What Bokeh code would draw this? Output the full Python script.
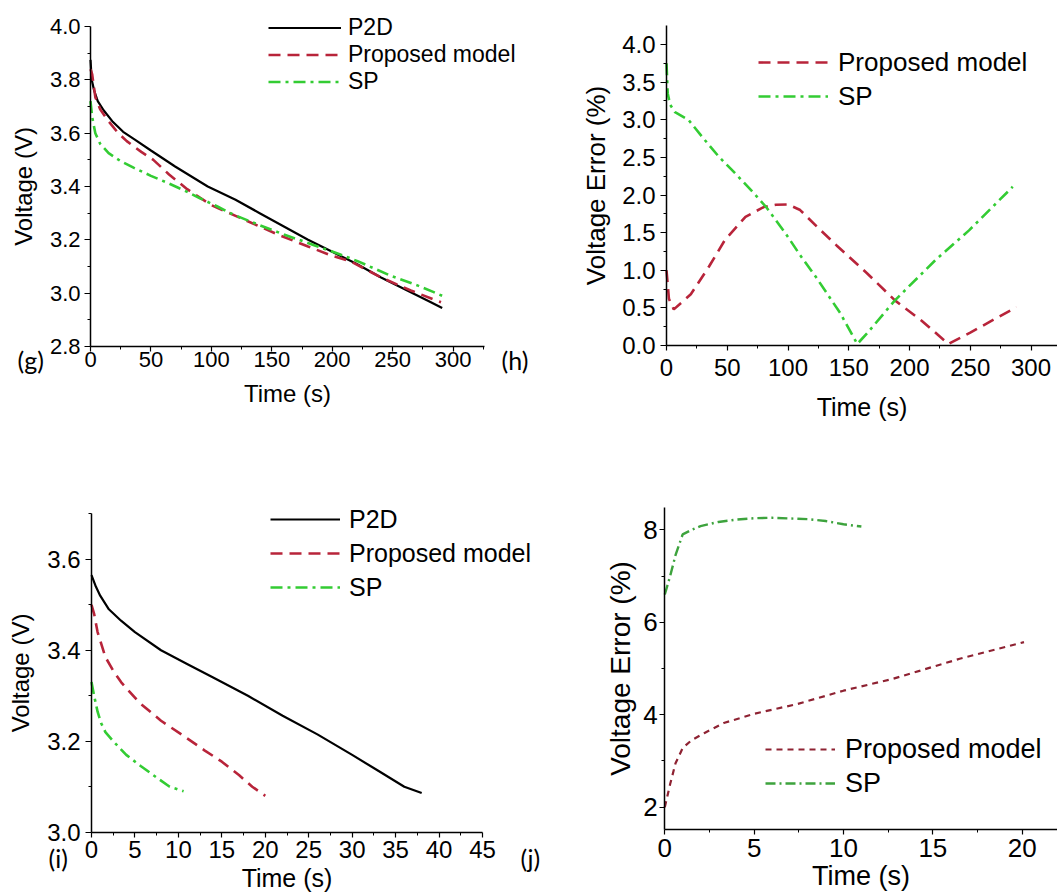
from bokeh.plotting import figure
from bokeh.layouts import column, row
from bokeh.models import FixedTicker, NumeralTickFormatter, Legend, LegendItem, Label, Range1d
from bokeh.embed import file_html
from bokeh.resources import INLINE

# ---------------- data ----------------
# panel (g): voltage vs time
g_p2d_t = [0, 1, 3, 6, 11, 18, 27, 37, 50, 70, 97, 120, 140, 160, 180, 200, 220, 240, 260, 280, 291]
g_p2d_v = [3.875, 3.80, 3.76, 3.72, 3.685, 3.645, 3.605, 3.575, 3.535, 3.475, 3.40, 3.35, 3.30, 3.25,
           3.20, 3.155, 3.11, 3.06, 3.015, 2.97, 2.944]
g_prop_t = [0, 1.4, 4, 8, 14, 22, 30, 42, 52, 65, 80, 100, 120, 140, 157, 180, 200, 215, 240, 265, 290]
g_prop_v = [3.84, 3.82, 3.735, 3.69, 3.65, 3.605, 3.57, 3.53, 3.50, 3.445, 3.39, 3.33, 3.29, 3.25,
            3.216, 3.175, 3.14, 3.12, 3.06, 3.01, 2.966]
g_sp_t = [0, 1.4, 4, 8, 15, 25, 36, 50, 63, 80, 91, 105, 118, 140, 160, 185, 205, 221, 248, 270, 284, 291]
g_sp_v = [3.72, 3.66, 3.60, 3.56, 3.525, 3.495, 3.47, 3.44, 3.415, 3.38, 3.355, 3.325, 3.295, 3.255,
          3.22, 3.18, 3.148, 3.12, 3.066, 3.03, 3.004, 2.99]

# panel (h): voltage error vs time
h_prop_t = [0, 2, 6, 20, 35, 48, 65, 80, 90, 100, 110, 125, 140, 165, 188, 210, 232, 250, 270, 288]
h_prop_v = [1.0, 0.62, 0.48, 0.68, 1.05, 1.40, 1.71, 1.84, 1.87, 1.875, 1.80, 1.56, 1.33, 0.96,
            0.60, 0.33, 0.02, 0.17, 0.35, 0.51]
h_sp_t = [0, 1, 3, 7, 18, 30, 43, 57, 71, 82, 98, 110, 123, 143, 157, 165, 188, 221, 249, 285]
h_sp_v = [3.75, 3.35, 3.20, 3.10, 3.00, 2.76, 2.51, 2.28, 2.04, 1.84, 1.49, 1.20, 0.91, 0.43,
          0.02, 0.16, 0.60, 1.13, 1.53, 2.11]

# panel (i): voltage vs time
i_p2d_t = [0, 0.5, 1, 2, 3.4, 5, 8, 11, 14, 18, 22, 26, 30, 33, 36, 38]
i_p2d_v = [3.565, 3.54, 3.52, 3.49, 3.465, 3.44, 3.40, 3.37, 3.34, 3.30, 3.256, 3.215, 3.17,
           3.135, 3.10, 3.086]
i_prop_t = [0, 0.3, 0.7, 1.6, 2.5, 3.4, 5.5, 8, 10.5, 13, 15, 17, 18.5, 20]
i_prop_v = [3.50, 3.48, 3.44, 3.385, 3.355, 3.33, 3.285, 3.245, 3.213, 3.18, 3.155, 3.125, 3.10, 3.08]
i_sp_t = [0, 0.3, 0.7, 1.1, 1.6, 2.6, 4, 5.7, 7.5, 9, 10.6]
i_sp_v = [3.33, 3.30, 3.265, 3.24, 3.22, 3.198, 3.17, 3.145, 3.12, 3.10, 3.09]

# panel (j): voltage error vs time
j_prop_t = [0, 0.3, 0.6, 1.0, 1.5, 2.2, 3.3, 5, 7.4, 10, 12.8, 16.5, 20.1]
j_prop_v = [2.0, 2.5, 2.95, 3.28, 3.45, 3.6, 3.82, 4.02, 4.23, 4.52, 4.78, 5.21, 5.57]
j_sp_t = [0, 0.3, 0.6, 1.0, 1.5, 2, 3, 4, 5, 6, 7, 8, 9, 10, 11]
j_sp_v = [6.6, 7.0, 7.45, 7.9, 8.0, 8.08, 8.17, 8.22, 8.25, 8.26, 8.245, 8.23, 8.19, 8.12, 8.07]

# tick values
g_xticks = [0, 50, 100, 150, 200, 250, 300]
g_xminor = [25, 75, 125, 175, 225, 275, 325]
g_yticks = [2.8, 3.0, 3.2, 3.4, 3.6, 3.8, 4.0]
g_yminor = [2.9, 3.1, 3.3, 3.5, 3.7, 3.9]
h_xticks = [0, 50, 100, 150, 200, 250, 300]
h_xminor = [25, 75, 125, 175, 225, 275]
h_yticks = [0.0, 0.5, 1.0, 1.5, 2.0, 2.5, 3.0, 3.5, 4.0]
h_yminor = [0.25, 0.75, 1.25, 1.75, 2.25, 2.75, 3.25, 3.75]
i_xticks = [0, 5, 10, 15, 20, 25, 30, 35, 40, 45]
i_xminor = [2.5, 7.5, 12.5, 17.5, 22.5, 27.5, 32.5, 37.5, 42.5]
i_yticks = [3.0, 3.2, 3.4, 3.6]
i_yminor = [3.1, 3.3, 3.5, 3.7]
j_xticks = [0, 5, 10, 15, 20]
j_xminor = [2.5, 7.5, 12.5, 17.5]
j_yticks = [2, 4, 6, 8]
j_yminor = [3, 5, 7]

FONT = "Liberation Sans"
PFONT = "Lato"
RED = "#B8243A"
GREEN = "#33CC33"


def make_fig(w, h, xpx, xval, ypx, yval, xbounds, ybounds):
    # x: value xval[0] at pixel xpx[0], xval[1] at xpx[1]; y pixels from the top
    kx = (xval[1] - xval[0]) / (xpx[1] - xpx[0])
    xr = (xval[0] - xpx[0] * kx, xval[0] + (w - xpx[0]) * kx)
    ytop, ybot = ypx
    ky = (yval[0] - yval[1]) / (ybot - ytop)
    yr = (yval[1] - (h - ybot) * ky, yval[0] + ytop * ky)
    p = figure(width=w, height=h, x_range=Range1d(*xr), y_range=Range1d(*yr),
               output_backend="svg", toolbar_location=None,
               min_border_left=0, min_border_right=0, min_border_top=0, min_border_bottom=0)
    p.grid.visible = False
    p.outline_line_color = None
    p.border_fill_color = "white"
    p.background_fill_color = "white"
    p.xaxis[0].fixed_location = ybounds[0]
    p.yaxis[0].fixed_location = xbounds[0]
    p.xaxis[0].bounds = xbounds
    p.yaxis[0].bounds = ybounds
    return p


def style_axis(ax, ticks, minor, fmt, tsize, label, lsize, tick_out, standoff, lstandoff):
    ax.ticker = FixedTicker(ticks=ticks, minor_ticks=minor)
    ax.formatter = NumeralTickFormatter(format=fmt)
    ax.major_label_text_font = FONT
    ax.major_label_text_font_size = f"{tsize}px"
    ax.major_label_text_color = "black"
    ax.axis_label = label
    ax.axis_label_text_font = FONT
    ax.axis_label_text_font_size = f"{lsize}px"
    ax.axis_label_text_font_style = "normal"
    ax.axis_label_text_color = "black"
    ax.axis_line_color = "black"
    ax.axis_line_width = 1.5
    ax.major_tick_line_color = "black"
    ax.major_tick_line_width = 1.2
    ax.minor_tick_line_color = "black"
    ax.major_tick_out = tick_out
    ax.major_tick_in = 0
    ax.minor_tick_out = 3
    ax.minor_tick_in = 0
    ax.major_label_standoff = standoff
    ax.axis_label_standoff = lstandoff


def add_legend(p, items, loc, fsize, pitch, gw, standoff):
    leg = Legend(items=[LegendItem(label=l, renderers=[r]) for l, r in items],
                 location=loc, padding=0, margin=0, spacing=0,
                 glyph_width=gw, glyph_height=pitch, label_height=pitch,
                 label_standoff=standoff, label_text_font=FONT,
                 label_text_font_size=f"{fsize}px", label_text_color="black",
                 border_line_color=None, background_fill_alpha=0)
    p.add_layout(leg)


def panel_label(p, text, x, y):
    p.add_layout(Label(x=x, y=y, x_units="screen", y_units="screen", text=text,
                       text_font=PFONT, text_font_size="25px", text_color="black",
                       text_baseline="top", text_align="left"))


# ---------------- (g) ----------------
pg = make_fig(530, 455, (90, 484), (0, 326), (26, 346), (4.0, 2.8), (0, 326), (2.8, 4.0))
rg1 = pg.line(g_p2d_t, g_p2d_v, line_color="black", line_width=2.2)
rg2 = pg.line(g_prop_t, g_prop_v, line_color=RED, line_width=2.6, line_dash="12 7")
rg3 = pg.line(g_sp_t, g_sp_v, line_color=GREEN, line_width=2.6, line_dash="12 5 3 5")
style_axis(pg.xaxis[0], g_xticks, g_xminor, "0", 22, "Time (s)", 24, 5, 0, 10)
style_axis(pg.yaxis[0], g_yticks, g_yminor, "0.0", 22, "Voltage (V)", 24, 6, 4, 10)
add_legend(pg, [("P2D", rg1), ("Proposed model", rg2), ("SP", rg3)], (268, 360), 23, 25, 73, 7)
panel_label(pg, "(g)", 17, 111)
panel_label(pg, "(h)", 501, 111)

# ---------------- (h) ----------------
ph = make_fig(527, 455, (136, 500.5), (0, 300), (44, 345), (4.0, 0.0), (0, 323), (0, 4.25))
rh1 = ph.line(h_prop_t, h_prop_v, line_color=RED, line_width=2.6, line_dash="12 7")
rh2 = ph.line(h_sp_t, h_sp_v, line_color=GREEN, line_width=2.6, line_dash="12 5 3 5")
style_axis(ph.xaxis[0], h_xticks, h_xminor, "0", 24, "Time (s)", 25, 5, 8, 14)
style_axis(ph.yaxis[0], h_yticks, h_yminor, "0.0", 24, "Voltage Error (%)", 26, 6, 5, 8)
add_legend(ph, [("Proposed model", rh1), ("SP", rh2)], (228, 342), 26, 34, 70, 10)

# ---------------- (i) ----------------
pi = make_fig(560, 439, (91, 482), (0, 45), (58.3, 376.7), (3.7, 3.0), (0, 45), (3.0, 3.7))
ri1 = pi.line(i_p2d_t, i_p2d_v, line_color="black", line_width=2.2)
ri2 = pi.line(i_prop_t, i_prop_v, line_color=RED, line_width=2.6, line_dash="12 7")
ri3 = pi.line(i_sp_t, i_sp_v, line_color=GREEN, line_width=2.6, line_dash="12 5 3 5")
style_axis(pi.xaxis[0], i_xticks, i_xminor, "0", 24, "Time (s)", 25, 5, 4, 2)
style_axis(pi.yaxis[0], i_yticks, i_yminor, "0.0", 24, "Voltage (V)", 24, 6, 5, 10)
add_legend(pi, [("P2D", ri1), ("Proposed model", ri2), ("SP", ri3)], (270, 290), 25, 34, 70, 9)
panel_label(pi, "(i)", 48, 52)
panel_label(pi, "(j)", 520, 52)

# ---------------- (j) ----------------
pj = make_fig(497, 439, (104.3, 461.7), (0, 20), (74.3, 351.7), (8.0, 2.0), (0, 22.1), (1.52, 8.48))
rj1 = pj.line(j_prop_t, j_prop_v, line_color="#8E2232", line_width=2.2, line_dash="6 5")
rj2 = pj.line(j_sp_t, j_sp_v, line_color="#3DA33D", line_width=2.4, line_dash="10 4 2 4")
style_axis(pj.xaxis[0], j_xticks, j_xminor, "0", 26, "Time (s)", 27, 5, 5, 0)
style_axis(pj.yaxis[0], j_yticks, j_yminor, "0", 26, "Voltage Error (%)", 28, 5, 2, 4)
add_legend(pj, [("Proposed model", rj1), ("SP", rj2)], (205, 94), 27, 34, 70, 10)

layout = column(row(pg, ph), row(pi, pj))
open("out.html", "w").write(file_html(layout, INLINE))
